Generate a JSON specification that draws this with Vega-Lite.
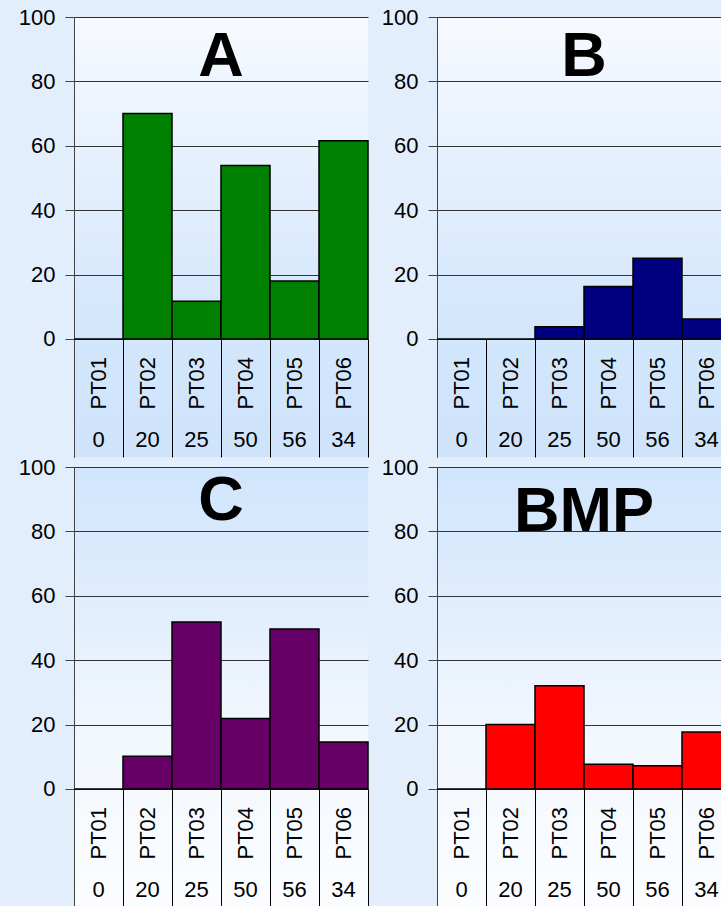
{
  "$schema": "https://vega.github.io/schema/vega-lite/v6.json",
  "background": "#e3eefc",
  "padding": {"left": 18, "top": 6, "right": 0, "bottom": 0},
  "datasets": {
    "A": [
      {"pt": "PT01", "n": "0", "v": 0},
      {"pt": "PT02", "n": "20", "v": 70},
      {"pt": "PT03", "n": "25", "v": 11.7},
      {"pt": "PT04", "n": "50", "v": 53.9},
      {"pt": "PT05", "n": "56", "v": 18},
      {"pt": "PT06", "n": "34", "v": 61.6}
    ],
    "B": [
      {"pt": "PT01", "n": "0", "v": 0},
      {"pt": "PT02", "n": "20", "v": 0},
      {"pt": "PT03", "n": "25", "v": 3.8},
      {"pt": "PT04", "n": "50", "v": 16.3},
      {"pt": "PT05", "n": "56", "v": 25.1},
      {"pt": "PT06", "n": "34", "v": 6.2}
    ],
    "C": [
      {"pt": "PT01", "n": "0", "v": 0},
      {"pt": "PT02", "n": "20", "v": 10.2},
      {"pt": "PT03", "n": "25", "v": 51.9},
      {"pt": "PT04", "n": "50", "v": 21.9},
      {"pt": "PT05", "n": "56", "v": 49.7},
      {"pt": "PT06", "n": "34", "v": 14.6}
    ],
    "BMP": [
      {"pt": "PT01", "n": "0", "v": 0},
      {"pt": "PT02", "n": "20", "v": 20},
      {"pt": "PT03", "n": "25", "v": 32.1},
      {"pt": "PT04", "n": "50", "v": 7.7},
      {"pt": "PT05", "n": "56", "v": 7.2},
      {"pt": "PT06", "n": "34", "v": 17.7}
    ]
  },
  "columns": 2,
  "spacing": {"row": -2, "column": 12},
  "concat": [
    {
      "width": 294, "height": 440,
      "view": {"fill": {"gradient": "linear", "x1": 0, "y1": 0, "x2": 0, "y2": 1, "stops": [{"offset": 0, "color": "#f7faff"}, {"offset": 0.4, "color": "#e2eefd"}, {"offset": 0.72, "color": "#d2e6fc"}, {"offset": 1, "color": "#cfe4fb"}]}},
      "title": {"text": "A", "offset": -83},
      "data": {"name": "A"},
      "layer": [
        {"mark": {"type": "bar", "color": "#008000", "stroke": "#000000", "strokeWidth": 1.5},
         "encoding": {
           "x": {"field": "pt", "type": "nominal", "sort": null, "title": null, "scale": {"paddingInner": 0, "paddingOuter": 0}, "axis": {"labelFontSize": 22}},
           "y": {"field": "v", "type": "quantitative", "title": null, "scale": {"domain": [-36.65, 100], "nice": false, "zero": false}, "axis": {"values": [0, 20, 40, 60, 80, 100], "labelFontSize": 22}}
         }},
        {"mark": {"type": "text", "fontSize": 22, "font": "Liberation Sans", "color": "#000000", "baseline": "middle", "align": "center"},
         "encoding": {
           "x": {"field": "pt", "type": "nominal", "sort": null, "title": null},
           "y": {"datum": -31.5},
           "text": {"field": "n"}
         }}
      ]
    },
    {
      "width": 294, "height": 440,
      "view": {"fill": {"gradient": "linear", "x1": 0, "y1": 0, "x2": 0, "y2": 1, "stops": [{"offset": 0, "color": "#f7faff"}, {"offset": 0.4, "color": "#e2eefd"}, {"offset": 0.72, "color": "#d2e6fc"}, {"offset": 1, "color": "#cfe4fb"}]}},
      "title": {"text": "B", "offset": -83},
      "data": {"name": "B"},
      "layer": [
        {"mark": {"type": "bar", "color": "#000080", "stroke": "#000000", "strokeWidth": 1.5},
         "encoding": {
           "x": {"field": "pt", "type": "nominal", "sort": null, "title": null, "scale": {"paddingInner": 0, "paddingOuter": 0}, "axis": {"labelFontSize": 22}},
           "y": {"field": "v", "type": "quantitative", "title": null, "scale": {"domain": [-36.65, 100], "nice": false, "zero": false}, "axis": {"values": [0, 20, 40, 60, 80, 100], "labelFontSize": 22}}
         }},
        {"mark": {"type": "text", "fontSize": 22, "font": "Liberation Sans", "color": "#000000", "baseline": "middle", "align": "center"},
         "encoding": {
           "x": {"field": "pt", "type": "nominal", "sort": null, "title": null},
           "y": {"datum": -31.5},
           "text": {"field": "n"}
         }}
      ]
    },
    {
      "width": 294, "height": 440,
      "view": {"fill": {"gradient": "linear", "x1": 0, "y1": 0, "x2": 0, "y2": 1, "stops": [{"offset": 0, "color": "#d0e5fc"}, {"offset": 0.3, "color": "#e0edfd"}, {"offset": 0.6, "color": "#f2f7fe"}, {"offset": 1, "color": "#fbfdff"}]}},
      "title": {"text": "C", "offset": -77},
      "data": {"name": "C"},
      "layer": [
        {"mark": {"type": "bar", "color": "#660066", "stroke": "#000000", "strokeWidth": 1.5},
         "encoding": {
           "x": {"field": "pt", "type": "nominal", "sort": null, "title": null, "scale": {"paddingInner": 0, "paddingOuter": 0}, "axis": {"labelFontSize": 22}},
           "y": {"field": "v", "type": "quantitative", "title": null, "scale": {"domain": [-36.65, 100], "nice": false, "zero": false}, "axis": {"values": [0, 20, 40, 60, 80, 100], "labelFontSize": 22}}
         }},
        {"mark": {"type": "text", "fontSize": 22, "font": "Liberation Sans", "color": "#000000", "baseline": "middle", "align": "center"},
         "encoding": {
           "x": {"field": "pt", "type": "nominal", "sort": null, "title": null},
           "y": {"datum": -31.5},
           "text": {"field": "n"}
         }}
      ]
    },
    {
      "width": 294, "height": 440,
      "view": {"fill": {"gradient": "linear", "x1": 0, "y1": 0, "x2": 0, "y2": 1, "stops": [{"offset": 0, "color": "#d0e5fc"}, {"offset": 0.3, "color": "#e0edfd"}, {"offset": 0.6, "color": "#f2f7fe"}, {"offset": 1, "color": "#fbfdff"}]}},
      "title": {"text": "BMP", "offset": -88},
      "data": {"name": "BMP"},
      "layer": [
        {"mark": {"type": "bar", "color": "#ff0000", "stroke": "#000000", "strokeWidth": 1.5},
         "encoding": {
           "x": {"field": "pt", "type": "nominal", "sort": null, "title": null, "scale": {"paddingInner": 0, "paddingOuter": 0}, "axis": {"labelFontSize": 22}},
           "y": {"field": "v", "type": "quantitative", "title": null, "scale": {"domain": [-36.65, 100], "nice": false, "zero": false}, "axis": {"values": [0, 20, 40, 60, 80, 100], "labelFontSize": 22}}
         }},
        {"mark": {"type": "text", "fontSize": 22, "font": "Liberation Sans", "color": "#000000", "baseline": "middle", "align": "center"},
         "encoding": {
           "x": {"field": "pt", "type": "nominal", "sort": null, "title": null},
           "y": {"datum": -31.5},
           "text": {"field": "n"}
         }}
      ]
    }
  ],
  "config": {
    "font": "Liberation Sans",
    "view": {"stroke": null},
    "title": {"font": "Liberation Sans", "fontSize": 63, "fontWeight": "bold", "color": "#000000", "anchor": "middle", "baseline": "alphabetic"},
    "axis": {"labelFont": "Liberation Sans", "labelFontSize": 22, "labelColor": "#000000", "labelFlush": false, "labelOverlap": false, "labelBound": false},
    "axisX": {"domain": false, "grid": false, "offset": -118, "tickBand": "extent", "tickSize": 118, "tickColor": "#000000", "tickWidth": 1, "labelAngle": -90, "labelAlign": "left", "labelBaseline": "middle", "labelPadding": -48, "labelFontSize": 22},
    "axisY": {"grid": true, "gridColor": "#333333", "gridWidth": 1, "domainColor": "#444444", "tickColor": "#444444", "tickSize": 9, "labelPadding": 10, "labelFontSize": 22}
  }
}
